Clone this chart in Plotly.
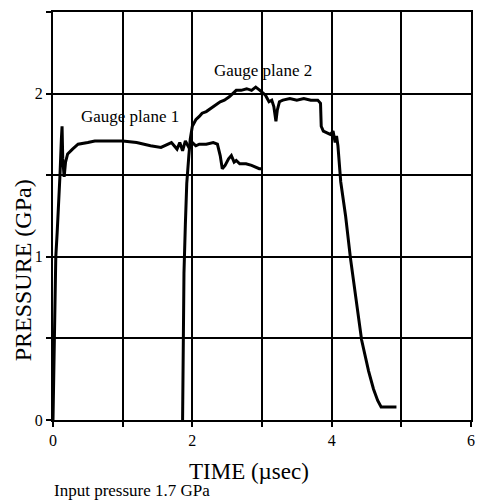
import plotly.graph_objects as go

# Gauge plane 1 record: time (µsec) and pressure (GPa)
t_gauge1 = [0.0, 0.02, 0.04, 0.06, 0.08, 0.10, 0.12, 0.13, 0.14, 0.16, 0.18, 0.21,
            0.28, 0.36, 0.5, 0.6, 0.8, 1.0, 1.2, 1.4, 1.55, 1.7, 1.78, 1.82, 1.86,
            1.9, 1.95, 2.0, 2.05, 2.1, 2.2, 2.3, 2.36, 2.40, 2.43, 2.47, 2.52, 2.56,
            2.60, 2.63, 2.68, 2.77, 2.85, 2.96, 3.0]
p_gauge1 = [0.0, 0.5, 1.0, 1.15, 1.3, 1.5, 1.72, 1.80, 1.6, 1.49, 1.58, 1.63,
            1.66, 1.69, 1.70, 1.71, 1.71, 1.71, 1.70, 1.68, 1.67, 1.70, 1.66, 1.70, 1.65,
            1.71, 1.67, 1.70, 1.68, 1.69, 1.69, 1.70, 1.69, 1.62, 1.54, 1.56, 1.60, 1.62,
            1.58, 1.59, 1.57, 1.57, 1.56, 1.54, 1.54]

# Gauge plane 2 record: time (µsec) and pressure (GPa)
t_gauge2 = [1.86, 1.87, 1.88, 1.90, 1.92, 1.95, 1.97, 2.0, 2.05, 2.1, 2.14, 2.2,
            2.27, 2.34, 2.4, 2.46, 2.53, 2.58, 2.63, 2.7, 2.78, 2.85, 2.91, 2.97,
            3.0, 3.05, 3.1, 3.14, 3.17, 3.2, 3.22, 3.25, 3.3, 3.4, 3.5, 3.6, 3.7,
            3.8, 3.84, 3.85, 3.88, 3.93, 3.98, 4.02, 4.05, 4.07, 4.09, 4.13, 4.2,
            4.27, 4.35, 4.43, 4.53, 4.6, 4.66, 4.71, 4.8, 4.93]
p_gauge2 = [0.0, 0.5, 0.9, 1.2, 1.45, 1.62, 1.72, 1.80, 1.84, 1.86, 1.88, 1.89,
            1.91, 1.93, 1.95, 1.96, 1.98, 2.0, 2.02, 2.02, 2.03, 2.02, 2.04, 2.02,
            2.01, 1.99, 1.95, 1.96, 1.92, 1.83, 1.90, 1.95, 1.96, 1.97, 1.96, 1.97, 1.96,
            1.96, 1.94, 1.80, 1.77, 1.76, 1.75, 1.77, 1.70, 1.74, 1.68, 1.46, 1.25,
            0.99, 0.74, 0.49, 0.30, 0.19, 0.12, 0.08, 0.08, 0.08]

x_ticks = [0, 1, 2, 3, 4, 5, 6]
x_tick_text = ["0", "", "2", "", "4", "", "6"]
y_ticks = [0, 0.5, 1, 1.5, 2, 2.5]
y_tick_text = ["0", "", "1", "", "2", ""]

FONT = "Liberation Serif, Times New Roman, serif"

fig = go.Figure()
fig.add_trace(go.Scatter(x=t_gauge1, y=p_gauge1, mode="lines",
                         line=dict(color="black", width=3), showlegend=False))
fig.add_trace(go.Scatter(x=t_gauge2, y=p_gauge2, mode="lines",
                         line=dict(color="black", width=3), showlegend=False))

axis_common = dict(
    showgrid=True, gridcolor="black", gridwidth=2,
    showline=True, linecolor="black", linewidth=2, mirror=True,
    zeroline=False, ticks="outside", ticklen=5, tickcolor="black", tickwidth=2,
    tickfont=dict(family=FONT, size=16, color="black"),
)

fig.update_xaxes(range=[0, 6], tickvals=x_ticks, ticktext=x_tick_text, **axis_common)
fig.update_yaxes(range=[0, 2.5], tickvals=y_ticks, ticktext=y_tick_text, **axis_common)

annotations = [
    dict(x=1.1, y=1.86, xref="x", yref="y", text="Gauge plane 1", showarrow=False,
         font=dict(family=FONT, size=17, color="black")),
    dict(x=3.02, y=2.14, xref="x", yref="y", text="Gauge plane 2", showarrow=False,
         font=dict(family=FONT, size=17, color="black")),
    dict(x=0.469, y=-0.127, xref="paper", yref="paper", text="TIME (µsec)", showarrow=False,
         font=dict(family=FONT, size=23, color="black"), xanchor="center", yanchor="middle"),
    dict(x=-0.002, y=-0.172, xref="paper", yref="paper", text="Input pressure 1.7 GPa",
         showarrow=False, font=dict(family=FONT, size=17, color="black"),
         xanchor="left", yanchor="middle"),
    dict(x=-0.073, y=0.368, xref="paper", yref="paper", text="PRESSURE (GPa)", showarrow=False,
         textangle=-90, font=dict(family=FONT, size=24, color="black"),
         xanchor="center", yanchor="middle"),
]

fig.update_layout(
    width=480, height=500,
    margin=dict(l=53, r=5, t=12, b=80),
    paper_bgcolor="white", plot_bgcolor="white",
    annotations=annotations,
)

fig.write_html("out.html")
